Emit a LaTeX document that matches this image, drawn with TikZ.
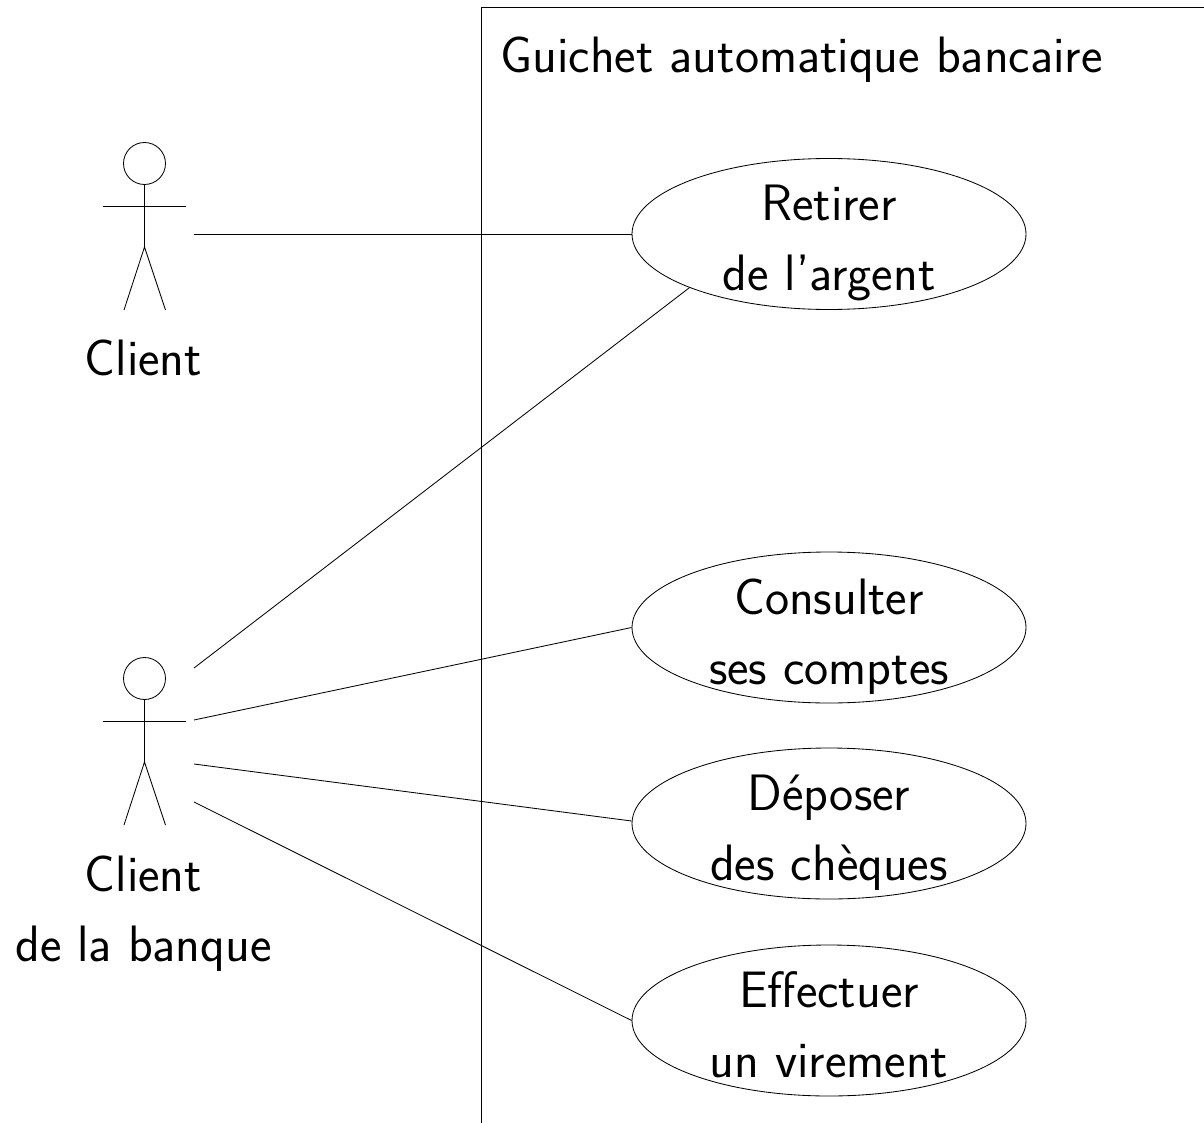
\documentclass[tikz,border=0pt]{standalone}
\usetikzlibrary{shapes.geometric}
\tikzset{
  usecase/.style={draw,ellipse,minimum width=197pt,minimum height=75.5pt,inner sep=0pt},
  label/.style={align=center,inner sep=0pt},
  wire/.style={line width=0.42pt,black}
}
\newcommand{\actorfig}[1]{%
  \draw[wire] (144.5,#1+163.5) circle (10.5pt);
  \draw[wire] (144.5,#1+184.5) -- (144.5,#1+247);
  \draw[wire] (103,#1+206) -- (186,#1+206);
  \draw[wire] (124,#1+310) -- (144.5,#1+247) -- (165.5,#1+310);
}
\newcommand{\twolines}[2]{\raisebox{-28.5pt}[0pt][0pt]{\begin{tabular}[b]{@{}c@{}}#1\\#2\end{tabular}}}
\begin{document}
\begin{tikzpicture}[x=0.5pt,y=-0.5pt,font=\sffamily\fontsize{25.6}{35}\selectfont,line width=0.42pt]
\useasboundingbox (0,0) rectangle (1204,1123);
\draw[wire] (481,1123) -- (481,7.5) -- (1204,7.5);
\node[label,anchor=base west] (title) at (500,73) {Guichet automatique bancaire};
\actorfig{0}
\actorfig{515}
\node[label] (client) at (143.5,358) {Client};
\node[label] (bank) at (143.5,914) {Client\\de la banque};
\node[usecase,wire] (e1) at (829,234) {\twolines{Retirer}{de l'argent}};
\node[usecase,wire] (e2) at (829,627.5) {\twolines{Consulter}{ses comptes}};
\node[usecase,wire] (e3) at (829,823.5) {\twolines{Déposer}{des chèques}};
\node[usecase,wire] (e4) at (829,1020.5) {\twolines{Effectuer}{un virement}};
\coordinate (a1) at (194,234);
\coordinate (b1) at (194,668);
\coordinate (b2) at (194,720);
\coordinate (b3) at (194,764);
\coordinate (b4) at (194,802);
\draw[wire] (a1) -- (e1.west);
\draw[wire] (b1) -- (e1.south west);
\draw[wire] (b2) -- (e2.west);
\draw[wire] (b3) -- ([yshift=1.25pt]e3.west);
\draw[wire] (b4) -- (e4.west);
\end{tikzpicture}
\end{document}
